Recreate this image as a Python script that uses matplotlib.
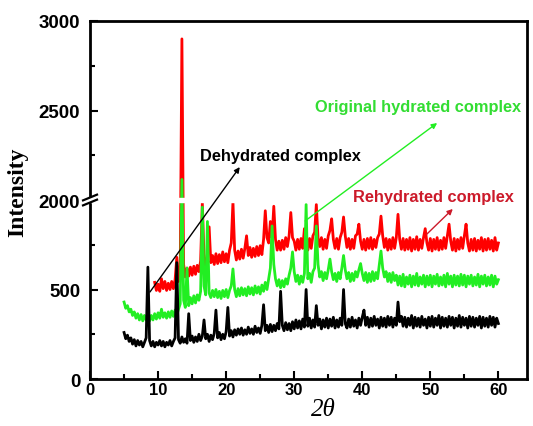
import numpy as np
import matplotlib
matplotlib.use('Agg')
import matplotlib.pyplot as plt
from matplotlib.ticker import FixedLocator

plt.rcParams['font.family'] = ['Liberation Sans', 'DejaVu Sans']
plt.rcParams['font.weight'] = 'bold'

# 2theta grids (step 0.25 deg)
x_black = np.arange(5, 60.001, 0.25)
x_green = np.arange(5, 60.001, 0.25)
x_red = np.arange(9.5, 60.001, 0.25)

# Dehydrated complex
black = [
    260, 225, 245, 210, 230, 195, 220, 185, 215, 190, 210, 180, 205, 230, 625, 215, 185, 210, 180, 205,  # 5
    190, 215, 185, 210, 180, 205, 190, 215, 185, 210, 230, 650, 220, 200, 235, 205, 225, 200, 365, 215,  # 10
    240, 205, 235, 210, 250, 215, 240, 330, 225, 250, 210, 245, 220, 255, 385, 230, 260, 220, 250, 225,  # 15
    265, 400, 240, 270, 235, 275, 245, 280, 250, 285, 245, 275, 250, 290, 255, 280, 250, 295, 260, 285,  # 20
    255, 300, 415, 270, 300, 260, 305, 265, 300, 270, 310, 280, 490, 300, 270, 315, 275, 310, 270, 320,  # 25
    280, 330, 285, 325, 280, 335, 290, 500, 295, 340, 285, 330, 290, 410, 300, 335, 280, 330, 290, 340,  # 30
    285, 335, 295, 345, 285, 330, 290, 340, 300, 500, 310, 285, 335, 290, 345, 295, 330, 285, 340, 300,  # 35
    345, 385, 300, 345, 290, 340, 295, 350, 300, 335, 285, 345, 295, 340, 290, 350, 300, 345, 290, 340,  # 40
    300, 430, 320, 350, 295, 345, 290, 340, 300, 355, 285, 345, 295, 340, 290, 350, 300, 335, 285, 345,  # 45
    295, 350, 290, 340, 300, 355, 285, 345, 295, 340, 290, 350, 300, 345, 285, 340, 295, 355, 290, 345,  # 50
    300, 340, 285, 350, 295, 345, 290, 340, 300, 350, 285, 345, 295, 340, 290, 350, 300, 345, 290, 340,  # 55
    310,
]

# Original hydrated complex
green = [
    430, 395, 410, 375, 390, 355, 375, 340, 365, 330, 360, 325, 355, 330, 360, 325, 355, 330, 365, 335,  # 5
    370, 340, 390, 345, 370, 340, 375, 345, 380, 350, 385, 355, 390, 420, 2115, 440, 400, 620, 410, 455,  # 10
    420, 465, 425, 470, 440, 490, 960, 520, 470, 880, 480, 455, 495, 460, 500, 455, 490, 450, 495, 460,  # 15
    500, 455, 495, 520, 615, 500, 460, 505, 465, 510, 470, 505, 465, 515, 475, 510, 470, 520, 480, 515,  # 20
    475, 525, 490, 540, 500, 560, 620, 855, 640, 560, 520, 555, 510, 550, 515, 560, 530, 580, 620, 710,  # 25
    600, 545, 580, 530, 575, 540, 590, 975, 560, 590, 540, 600, 620, 855, 640, 570, 600, 550, 595, 560,  # 30
    610, 670, 600, 555, 590, 545, 595, 560, 620, 690, 610, 560, 595, 545, 590, 550, 600, 570, 610, 645,  # 35
    590, 550, 595, 540, 590, 545, 600, 550, 595, 560, 640, 715, 620, 570, 600, 545, 590, 540, 595, 550,  # 40
    580, 525, 575, 520, 585, 515, 570, 530, 580, 515, 575, 525, 590, 520, 570, 530, 580, 515, 575, 525,  # 45
    580, 515, 575, 530, 585, 520, 570, 525, 580, 515, 590, 530, 575, 515, 580, 525, 575, 520, 585, 525,  # 50
    580, 515, 575, 530, 580, 520, 570, 525, 585, 515, 575, 530, 580, 520, 570, 525, 580, 515, 575, 530,  # 55
    555,
]

# Rehydrated complex
red = [
    540, 495,  # 9.5
    530, 490, 560, 505, 545, 495, 535, 500, 545, 505, 555, 680, 545, 600, 2900, 640, 570, 620, 575, 625,  # 10
    580, 630, 585, 635, 600, 660, 985, 680, 620, 700, 850, 650, 690, 640, 700, 645, 695, 650, 710, 655,  # 15
    700, 650, 720, 760, 990, 720, 665, 715, 670, 725, 675, 730, 800, 690, 735, 680, 730, 685, 740, 690,  # 20
    745, 695, 780, 940, 790, 760, 880, 790, 965, 780, 720, 770, 720, 775, 725, 790, 740, 800, 930, 790,  # 25
    770, 720, 780, 725, 785, 730, 840, 760, 720, 785, 730, 800, 820, 975, 790, 740, 790, 725, 780, 730,  # 30
    800, 830, 895, 780, 730, 785, 725, 790, 820, 905, 800, 735, 785, 725, 780, 730, 800, 810, 865, 770,  # 35
    725, 780, 720, 785, 730, 790, 725, 780, 735, 790, 810, 910, 800, 735, 785, 720, 780, 725, 790, 730,  # 40
    790, 920, 780, 725, 785, 720, 780, 725, 790, 715, 780, 725, 795, 720, 780, 730, 790, 840, 760, 720,  # 45
    785, 715, 780, 725, 790, 720, 775, 725, 790, 730, 800, 865, 770, 720, 785, 715, 780, 725, 790, 730,  # 50
    800, 865, 760, 715, 780, 720, 785, 715, 775, 725, 790, 715, 780, 720, 785, 725, 775, 715, 790, 720,  # 55
    760,
]

xticks = [0, 10, 20, 30, 40, 50, 60]
yticks = [0, 500, 2000, 2500, 3000]


# broken intensity axis: 1000..2000 is cut out
def fwd(y):
    y = np.asarray(y, dtype=float)
    return np.where(y < 1000, y, np.where(y < 2000, 1000, y - 1000))


def inv(p):
    p = np.asarray(p, dtype=float)
    return np.where(p < 1000, p, p + 1000)


fig = plt.figure(figsize=(5.33, 4.27), dpi=100)
ax = fig.add_axes([0.1689, 0.110, 0.8198, 0.8385])
ax.set_yscale('function', functions=(fwd, inv))

ax.plot(x_red, red, color='#ff0000', lw=2.0, zorder=2)
ax.plot(x_green, green, color='#22ee22', lw=2.0, zorder=2.1)
ax.plot(x_black, black, color='black', lw=2.0, zorder=2.2)

ax.set_xlim(0, 64.2)
ax.set_ylim(0, 3000)
ax.xaxis.set_major_locator(FixedLocator(xticks))
ax.xaxis.set_minor_locator(FixedLocator([5, 15, 25, 35, 45, 55]))
ax.yaxis.set_major_locator(FixedLocator(yticks))
ax.yaxis.set_minor_locator(FixedLocator([250, 750, 2250, 2750]))
ax.tick_params(which='major', direction='in', length=6, width=1.5)
ax.tick_params(which='minor', direction='in', length=3.5, width=1.5)
ax.tick_params(axis='x', labelsize=12, pad=2)
ax.tick_params(axis='y', labelsize=13.5, pad=7)
for s in ax.spines.values():
    s.set_linewidth(2)
    s.set_zorder(5)

# white gap through the traces at the break
ax.axhspan(990, 2010, color='white', zorder=3)
# break marks on the left spine
ax.plot([-0.002, 0.002], [0.493, 0.507], transform=ax.transAxes, color='white',
        lw=4, clip_on=False, zorder=6, solid_capstyle='butt')
for dy in (-0.007, 0.007):
    ax.plot([-0.016, 0.016], [0.492 + dy, 0.508 + dy], transform=ax.transAxes,
            color='black', lw=1.6, clip_on=False, zorder=7)

ax.set_ylabel('Intensity', fontfamily='Liberation Serif', fontweight='bold', fontsize=17)
ax.yaxis.set_label_coords(-0.142, 0.525)
ax.set_xlabel('2θ', fontfamily='Liberation Serif', fontweight='normal', style='italic', fontsize=18)
ax.xaxis.set_label_coords(0.535, -0.052)

arrow = dict(arrowstyle='-|>', lw=1.0, mutation_scale=8, shrinkA=0, shrinkB=0)
ax.annotate('', xy=(22.0, 2184), xytext=(8.8, 486), arrowprops=dict(arrow, color='black'), zorder=4)
ax.annotate('', xy=(51.0, 2430), xytext=(31.6, 883), arrowprops=dict(arrow, color='#22ee22'), zorder=4)
ax.annotate('', xy=(53.3, 950), xytext=(49.5, 810), arrowprops=dict(arrow, color='#cc1a2a'), zorder=4)

ax.text(16.2, 2251, 'Dehydrated complex', fontsize=11.8, color='black', va='center', ha='left')
ax.text(33.1, 2520, 'Original hydrated complex', fontsize=11.8, color='#33dd33', va='center', ha='left')
ax.text(38.6, 2022, 'Rehydrated complex', fontsize=11.8, color='#cc1a2a', va='center', ha='left')

fig.savefig('out.png', dpi=100)
